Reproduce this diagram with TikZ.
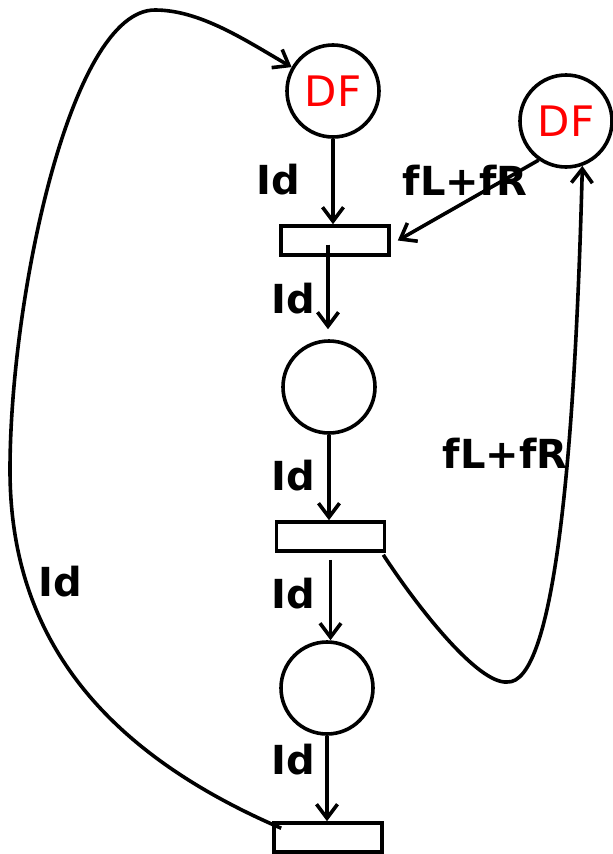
\documentclass[tikz,border=0pt]{standalone}
\usepackage{fontspec}
\setmainfont{DejaVu Sans}
\usetikzlibrary{arrows.meta}

\begin{document}
\begin{tikzpicture}
        [x=1pt, y=-1pt,
        place/.style={circle, draw, line width=3.6pt, minimum size=92pt, inner sep=0pt},
        trans/.style={rectangle, draw, line width=3.6pt, minimum width=108pt, minimum height=29pt, inner sep=0pt},
        token/.style={text=red, font=\fontsize{42}{44}\selectfont},
        lbl/.style={font=\fontsize{40}{42}\selectfont\bfseries},
        arc/.style={line width=3.6pt, -{Straight Barb[length=14pt,width=21pt]}}]

    \useasboundingbox (0,0) rectangle (613,854);

    \node[place] (df1) at (333,91) {};
    \node[token] at (df1.center) {DF};
    \node[place] (df2) at (566,121) {};
    \node[token] at (df2.center) {DF};
    \node[trans] (t1) at (335,240.5) {};
    \node[place] (p2) at (329,387) {};
    \node[trans] (t2) at (330.5,536.5) {};
    \node[place] (p3) at (327,688) {};
    \node[trans] (t3) at (328,837.5) {};

    \draw[arc] (df1.south) -- (df1.south |- t1.north);
    \draw[arc] (df2.235) -- ([xshift=7pt]t1.east);
    \draw[arc] ([xshift=-7pt,yshift=-4pt]t1.center) -- ([xshift=-7pt,yshift=10pt]t1.center |- p2.north);
    \draw[arc] (p2.south) -- (p2.south |- t2.north);
    \draw[arc] ([yshift=-7pt]t2.south) -- (t2.south |- p3.north);
    \draw[arc] (p3.south) -- (p3.south |- t3.north);

    \draw[arc] ([xshift=-3pt,yshift=-2pt]t2.south east)
        .. controls (418,608) and (478,684) .. (507,682)
        .. controls (555,685) and (575,450) .. (df2.290);
    \draw[arc] ([xshift=9pt,yshift=-7pt]t3.north west)
        .. controls (95,748) and (10,630) .. (10,470)
        .. controls (10,300) and (70,10) .. (155,10)
        .. controls (200,10) and (245,40) .. (df1.150);

    \node[lbl] (l1) at (278,180) {Id};
    \node[lbl] (l2) at (465,180) {fL+fR};
    \node[lbl] (l3) at (293,299) {Id};
    \node[lbl] (l4) at (293,476) {Id};
    \node[lbl] (l5) at (293,594) {Id};
    \node[lbl] (l6) at (293,760) {Id};
    \node[lbl] (l7) at (505,453) {fL+fR};
    \node[lbl] (l8) at (60,582) {Id};
\end{tikzpicture}
\end{document}
